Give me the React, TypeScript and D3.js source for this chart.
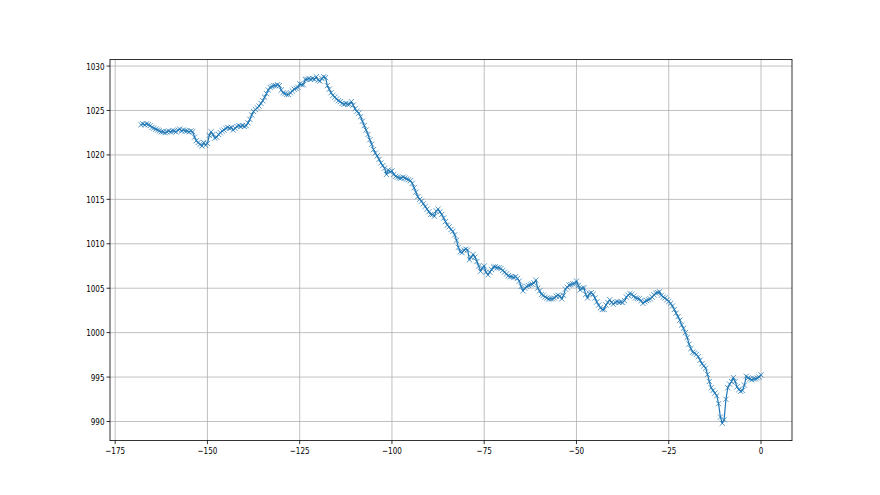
import React from "react";
import * as d3 from "d3";

// Hours before now (half-hour readings), pressure in hPa
const START_HOUR = -168;
const STEP_HOURS = 0.5;

const pressure: number[] = [
  1023.4, 1023.5, 1023.4, 1023.5, 1023.4, 1023.3, 1023.1, 1023.0, 1022.9, 1022.8,
  1022.7, 1022.6, 1022.6, 1022.5, 1022.6, 1022.7, 1022.6, 1022.7, 1022.7, 1022.6,
  1022.8, 1022.9, 1022.7, 1022.8, 1022.7, 1022.7, 1022.6, 1022.7, 1022.6, 1022.0,
  1021.6, 1021.4, 1021.2, 1021.0, 1021.4, 1021.1, 1021.3, 1022.2, 1022.6, 1022.3,
  1021.9, 1022.0, 1022.3, 1022.5, 1022.7, 1022.8, 1023.0, 1023.1, 1023.0, 1023.1,
  1022.8, 1023.0, 1023.2, 1023.3, 1023.2, 1023.3, 1023.2, 1023.3, 1023.6, 1024.0,
  1024.5, 1024.9, 1025.1, 1025.3, 1025.5, 1025.8, 1026.1, 1026.5, 1026.9, 1027.3,
  1027.6, 1027.7, 1027.8, 1027.8, 1027.9, 1027.8, 1027.3, 1027.0, 1026.9, 1026.8,
  1026.8, 1027.0, 1027.2, 1027.4, 1027.5, 1027.6, 1028.0, 1027.9, 1027.9, 1028.5,
  1028.5, 1028.6, 1028.5, 1028.6, 1028.5, 1028.8, 1028.4, 1028.3, 1028.6, 1028.8,
  1028.7, 1027.8, 1027.4, 1027.0, 1026.7, 1026.5, 1026.3, 1026.1, 1026.0, 1025.8,
  1025.7, 1025.8, 1025.7, 1025.7, 1026.0, 1025.6, 1025.2, 1024.9, 1024.7, 1024.3,
  1023.8, 1023.3, 1022.8, 1022.3, 1021.7, 1021.2, 1020.6, 1020.2, 1019.9, 1019.5,
  1019.1, 1018.8, 1018.5, 1017.8, 1018.3, 1018.1, 1018.2, 1017.8, 1017.6, 1017.5,
  1017.4, 1017.4, 1017.5, 1017.4, 1017.3, 1017.2, 1017.1, 1016.8, 1016.3, 1015.8,
  1015.3, 1015.0, 1014.8, 1014.5, 1014.2, 1013.9, 1013.6, 1013.3, 1013.3, 1013.1,
  1013.7, 1013.9, 1013.6, 1013.3, 1012.9, 1012.5, 1012.1, 1011.9, 1011.6, 1011.4,
  1011.0, 1010.4, 1009.6, 1009.1, 1009.0, 1009.3, 1009.4, 1009.3, 1008.2, 1008.5,
  1008.8, 1008.5, 1008.0, 1007.5, 1006.9, 1007.3, 1007.5, 1006.8, 1006.5, 1006.8,
  1007.1, 1007.4, 1007.4, 1007.3, 1007.3, 1007.2, 1007.0, 1006.8, 1006.6, 1006.4,
  1006.3, 1006.3, 1006.2, 1006.3, 1006.1, 1005.8, 1005.2, 1004.7, 1005.0, 1005.2,
  1005.3, 1005.4, 1005.45, 1005.6, 1005.9, 1005.0, 1004.7, 1004.3, 1004.2, 1004.0,
  1003.9, 1003.8, 1003.8, 1003.8, 1003.9, 1004.1, 1004.2, 1004.1, 1003.8, 1004.2,
  1004.9, 1005.1, 1005.35, 1005.4, 1005.5, 1005.5, 1005.8, 1005.3, 1004.8, 1005.0,
  1005.05, 1004.3, 1003.9, 1004.4, 1004.5, 1004.3, 1003.9, 1003.45, 1003.1, 1002.8,
  1002.6, 1002.6, 1003.1, 1003.4, 1003.7, 1003.4, 1003.2, 1003.4, 1003.5, 1003.4,
  1003.45, 1003.4, 1003.6, 1004.0, 1004.2, 1004.4, 1004.3, 1004.1, 1003.9, 1003.85,
  1003.8, 1003.6, 1003.3, 1003.5, 1003.6, 1003.7, 1003.8, 1004.0, 1004.25, 1004.45,
  1004.5, 1004.6, 1004.2, 1004.0, 1003.9, 1003.7, 1003.5, 1003.3, 1003.0, 1002.6,
  1002.2, 1001.8, 1001.4, 1000.85, 1000.5, 1000.0, 999.45, 998.7, 998.2, 997.8,
  997.7, 997.55, 997.3, 996.9, 996.5, 996.25, 996.0, 995.3, 994.5, 993.8,
  993.5, 993.2, 992.9, 992.0, 990.5, 989.8, 990.2, 992.5, 993.8, 994.2,
  994.5, 994.95, 994.5, 993.9, 993.6, 993.4, 993.5, 994.1, 995.1, 994.9,
  994.8, 994.7, 994.8, 994.8, 994.9, 995.0, 995.25,
];

const xTicks = [-175, -150, -125, -100, -75, -50, -25, 0];
const yTicks = [990, 995, 1000, 1005, 1010, 1015, 1020, 1025, 1030];

const W = 880;
const H = 495;
const M = { left: 110, right: 792, top: 59.4, bottom: 440.6 };

const fmt = (v: number) => (v < 0 ? "\u2212" + Math.abs(v) : String(v));

export default function App() {
  const data = pressure.map((p, i) => ({ x: START_HOUR + i * STEP_HOURS, y: p }));
  const [x0, x1] = d3.extent(data, (d) => d.x) as [number, number];
  const [y0, y1] = d3.extent(data, (d) => d.y) as [number, number];
  const px = (x1 - x0) * 0.05;
  const py = (y1 - y0) * 0.05;
  const xs = d3.scaleLinear().domain([x0 - px, x1 + px]).range([M.left, M.right]);
  const ys = d3.scaleLinear().domain([y0 - py, y1 + py]).range([M.bottom, M.top]);
  const line = d3.line<{ x: number; y: number }>().x((d) => xs(d.x)).y((d) => ys(d.y));
  const color = "#1f77b4";
  const font = "'DejaVu Sans', sans-serif";
  const sx = 0.76;
  const fs = 9.5;

  return (
    <svg
      width={W}
      height={H}
      style={{ position: "absolute", left: 0, top: 0, background: "#fff" }}
      fontFamily={font}
    >
      <rect x={0} y={0} width={W} height={H} fill="#fff" />
      {/* grid */}
      {xTicks.map((t) => (
        <line key={"gx" + t} x1={xs(t)} x2={xs(t)} y1={M.top} y2={M.bottom} stroke="#b0b0b0" strokeWidth={0.8} />
      ))}
      {yTicks.map((t) => (
        <line key={"gy" + t} x1={M.left} x2={M.right} y1={ys(t)} y2={ys(t)} stroke="#b0b0b0" strokeWidth={0.8} />
      ))}
      {/* data */}
      <path d={line(data) || ""} fill="none" stroke={color} strokeWidth={1.2} strokeLinejoin="round" />
      <g stroke={color} strokeWidth={1} strokeOpacity={0.75}>
        {data.map((d, i) => {
          const cx = xs(d.x);
          const cy = ys(d.y);
          const r = 2.6;
          return (
            <path key={i} d={`M${cx - r},${cy - r}L${cx + r},${cy + r}M${cx - r},${cy + r}L${cx + r},${cy - r}`} />
          );
        })}
      </g>
      {/* spines */}
      <rect x={M.left} y={M.top} width={M.right - M.left} height={M.bottom - M.top} fill="none" stroke="#000" strokeWidth={0.8} />
      {/* x ticks */}
      {xTicks.map((t) => (
        <g key={"xt" + t}>
          <line x1={xs(t)} x2={xs(t)} y1={M.bottom} y2={M.bottom + 3.5} stroke="#000" strokeWidth={0.8} />
          <text
            transform={`translate(${xs(t)},${M.bottom + 13}) scale(${sx},1)`}
            textAnchor="middle"
            fontSize={fs}
            fill="#000"
          >
            {fmt(t)}
          </text>
        </g>
      ))}
      {/* y ticks */}
      {yTicks.map((t) => (
        <g key={"yt" + t}>
          <line x1={M.left - 3.5} x2={M.left} y1={ys(t)} y2={ys(t)} stroke="#000" strokeWidth={0.8} />
          <text
            transform={`translate(${M.left - 5.5},${ys(t) + 3.5}) scale(${sx},1)`}
            textAnchor="end"
            fontSize={fs}
            fill="#000"
          >
            {fmt(t)}
          </text>
        </g>
      ))}
    </svg>
  );
}
